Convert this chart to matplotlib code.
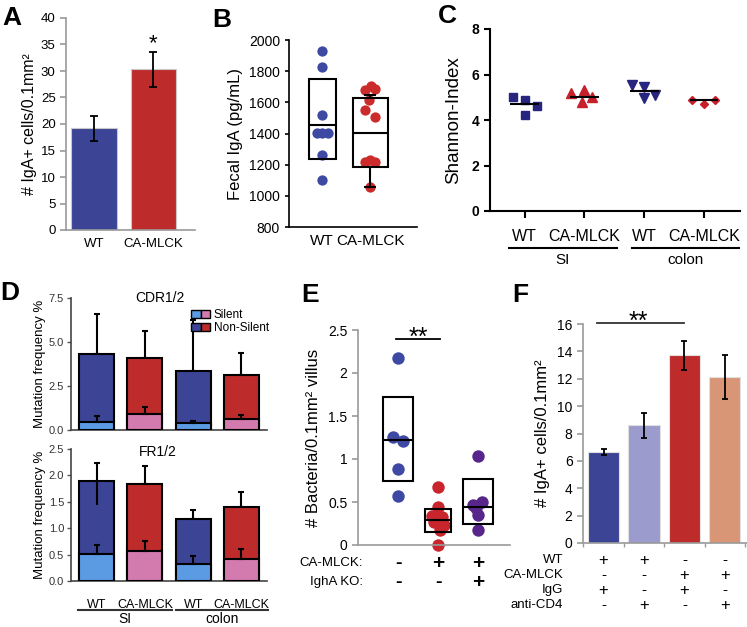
import numpy as np
import matplotlib.pyplot as plt
from matplotlib.patches import Patch
from matplotlib.legend_handler import HandlerTuple

plt.rcParams['font.family'] = ['Liberation Sans', 'DejaVu Sans']

# ---- panel A ----
a_groups = ['WT', 'CA-MLCK']
a_vals = [19.2, 30.3]
a_err = [2.4, 3.3]

# ---- panel B ----
b_groups = ['WT', 'CA-MLCK']
b_wt = [1930, 1828, 1516, 1402, 1402, 1402, 1265, 1101]
b_wt_jit = [0, 0, 0, -0.1, 0, 0.12, 0, 0]
b_ca = [1682, 1703, 1688, 1617, 1548, 1505, 1215, 1230, 1215, 1054]
b_ca_jit = [-0.1, 0.015, 0.1, -0.015, -0.1, 0.1, -0.1, 0, 0.1, 0]
b_q1 = [1235, 1187]
b_q3 = [1750, 1630]
b_med = [1455, 1402]
b_whislo = [None, 1058]
b_whishi = [None, 1645]

# ---- panel C ----
c_labels = ['WT', 'CA-MLCK', 'WT', 'CA-MLCK']
c_data = [[5.0, 4.9, 4.61, 4.2],
          [5.17, 5.31, 4.8, 5.0],
          [5.56, 5.45, 4.95, 5.12],
          [4.9, 4.69, 4.9]]
c_jit = [[-0.2, 0, 0.2, 0],
         [-0.23, 0, -0.05, 0.13],
         [-0.2, 0, 0, 0.18],
         [-0.2, 0, 0.18]]
c_means = [4.69, 5.0, 5.27, 4.88]

# ---- panel D ----
d_labels = ['WT', 'CA-MLCK', 'WT', 'CA-MLCK']
cdr_total = [4.31, 4.08, 3.38, 3.13]
cdr_total_err = [2.27, 1.56, 2.88, 1.23]
cdr_silent = [0.47, 0.89, 0.42, 0.63]
cdr_silent_err = [0.35, 0.44, 0.09, 0.22]
fr_total = [1.885, 1.83, 1.17, 1.40]
fr_total_err = [0.345, 0.35, 0.175, 0.29]
fr_total_err_lo = [0.445, 0, 0, 0]
fr_silent = [0.52, 0.565, 0.33, 0.425]
fr_silent_err = [0.17, 0.19, 0.14, 0.175]

# ---- panel E ----
e_blue = [2.18, 1.26, 1.21, 0.88, 0.57]
e_blue_jit = [0, -0.13, 0.13, 0, 0]
e_red = [0.67, 0.44, 0.34, 0.32, 0.27, 0.23, 0.18, 0.0]
e_red_jit = [0, 0, -0.15, 0.1, -0.1, 0.15, 0.05, 0]
e_purple = [1.03, 0.50, 0.47, 0.43, 0.35, 0.18]
e_purple_jit = [0, 0.1, -0.12, -0.05, 0, 0]
e_q1 = [0.74, 0.155, 0.245]
e_q3 = [1.72, 0.42, 0.77]
e_med = [1.22, 0.29, 0.445]
e_rows = ['CA-MLCK:', 'IghA KO:']
e_signs = [['-', '+', '+'], ['-', '-', '+']]

# ---- panel F ----
f_vals = [6.68, 8.59, 13.7, 12.15]
f_err = [0.22, 0.94, 1.05, 1.6]
f_rows = ['WT', 'CA-MLCK', 'IgG', 'anti-CD4']
f_signs = [['+', '+', '-', '-'],
           ['-', '-', '+', '+'],
           ['+', '-', '+', '-'],
           ['-', '+', '-', '+']]

BLUE = '#3c4496'
RED = '#bd2c2a'
LBLUE = '#5b9be3'
PINK = '#d37aae'
GRAY = '#9a9a9a'

W, H = 747, 627
fig = plt.figure(figsize=(W / 100, H / 100), dpi=100)


def px_axes(x0, y0, x1, y1):
    return fig.add_axes([x0 / W, 1 - y1 / H, (x1 - x0) / W, (y1 - y0) / H])


def gray_axes(ax):
    for s in ['top', 'right']:
        ax.spines[s].set_visible(False)
    for s in ['left', 'bottom']:
        ax.spines[s].set_color(GRAY)
        ax.spines[s].set_linewidth(1.2)
    ax.tick_params(axis='y', color=GRAY, length=4, width=1.2)


# panel letters
for letter, (x, y) in zip('ABCDEF', [(2, 25), (212, 27), (438, 23),
                                      (0, 300), (301, 302), (512, 302)]):
    fig.text(x / W, 1 - y / H, letter, fontsize=19, fontweight='bold',
             va='baseline')

# ---------- A ----------
ax = px_axes(66, 18, 195, 230)
xa = np.arange(len(a_groups))
ax.bar(xa, a_vals, width=0.77, color=[BLUE, RED], edgecolor='#c8c8c8', lw=0.8)
ax.errorbar(xa, a_vals, yerr=a_err, fmt='none', ecolor='k', elinewidth=1.3,
            capsize=3, capthick=1.3)
ax.text(1, 34.2, '*', ha='center', va='baseline', fontsize=16)
ax.set_xlim(-0.47, 1.70)
ax.set_ylim(0, 40)
ax.set_yticks(range(0, 41, 5))
ax.set_xticks(xa)
ax.set_xticklabels(a_groups, fontsize=9.5)
ax.tick_params(axis='x', length=0, pad=6)
ax.tick_params(axis='y', labelsize=9.5)
gray_axes(ax)
ax.set_ylabel('# IgA+ cells/0.1mm²', fontsize=11.5, labelpad=3)

# ---------- B ----------
ax = px_axes(289, 40, 417, 227)
ax.scatter(np.zeros(len(b_wt)) + b_wt_jit, b_wt, s=55, color='#3d49a3',
           zorder=2, lw=0)
ax.scatter(np.ones(len(b_ca)) + b_ca_jit, b_ca, s=55, color='#cc2b2b',
           zorder=2, lw=0)
bw = [0.56, 0.73]
for i in range(2):
    ax.bar(i, b_q3[i] - b_q1[i], bottom=b_q1[i], width=bw[i], fill=False,
           edgecolor='k', lw=1.5, zorder=3)
    ax.hlines(b_med[i], i - bw[i] / 2, i + bw[i] / 2, color='k', lw=1.5,
              zorder=3)
    if b_whislo[i] is not None:
        ax.vlines(i, b_whislo[i], b_q1[i], color='k', lw=1.5, zorder=3)
        ax.vlines(i, b_q3[i], b_whishi[i], color='k', lw=1.5, zorder=3)
        ax.hlines([b_whislo[i], b_whishi[i]], i - 0.12, i + 0.12, color='k',
                  lw=1.5, zorder=3)
ax.set_xlim(-0.69, 1.98)
ax.set_ylim(800, 2000)
ax.set_yticks(range(800, 2001, 200))
ax.set_xticks([0, 1])
ax.set_xticklabels(b_groups, fontsize=11)
ax.tick_params(axis='x', length=0, pad=5)
ax.tick_params(axis='y', labelsize=10, length=3, width=1.2)
for s in ['top', 'right']:
    ax.spines[s].set_visible(False)
for s in ['left', 'bottom']:
    ax.spines[s].set_linewidth(1.2)
ax.set_ylabel('Fecal IgA (pg/mL)', fontsize=12, labelpad=4)

# ---------- C ----------
ax = px_axes(490, 29, 740, 211)
markers = ['s', '^', 'v', 'D']
mcolors = ['#27257f', '#c8202a', '#27257f', '#c8202a']
msizes = [5.5, 6.5, 6.5, 4.5]
for i, vals in enumerate(c_data):
    ax.plot(np.full(len(vals), i) + np.array(c_jit[i]), vals, ls='none',
            marker=markers[i], color=mcolors[i], ms=msizes[i], zorder=2)
    ax.hlines(c_means[i], i - 0.24, i + 0.24, color='k', lw=1.5, zorder=3)
ax.set_xlim(-0.58, 3.6)
ax.set_ylim(0, 8)
ax.set_yticks([0, 2, 4, 6, 8])
ax.set_xticks(range(4))
ax.set_xticklabels(c_labels, fontsize=11.5)
for t in ax.get_yticklabels():
    t.set_fontweight('bold')
ax.tick_params(axis='y', labelsize=10, length=4, width=1.5)
ax.tick_params(axis='x', length=5, width=1.5, pad=8)
for s in ['top', 'right']:
    ax.spines[s].set_visible(False)
for s in ['left', 'bottom']:
    ax.spines[s].set_linewidth(1.5)
ax.set_ylabel('Shannon-Index', fontsize=13.5, labelpad=7)
tr = ax.get_xaxis_transform()
for (xs, xe), lab in zip([(-0.27, 1.55), (1.8, 3.58)], ['SI', 'colon']):
    ax.plot([xs, xe], [-0.203, -0.203], color='k', lw=1.5, transform=tr,
            clip_on=False)
    ax.text((xs + xe) / 2, -0.27, lab, transform=tr, ha='center', va='center',
            fontsize=11)

# ---------- D ----------
xd = np.arange(4)
dark = [BLUE, RED, BLUE, RED]
light = [LBLUE, PINK, LBLUE, PINK]
for (y0, y1, tot, tot_err, tot_lo, sil, sil_err, top, step, title,
     bottom) in [
        (298, 430, cdr_total, cdr_total_err, [0] * 4, cdr_silent,
         cdr_silent_err, 7.5, 2.5, 'CDR1/2', False),
        (449, 581, fr_total, fr_total_err, fr_total_err_lo, fr_silent,
         fr_silent_err, 2.5, 0.5, 'FR1/2', True)]:
    ax = px_axes(71, y0, 267, y1)
    ax.errorbar(xd, tot, yerr=[tot_lo, tot_err], fmt='none', ecolor='k',
                elinewidth=1.5, capsize=2.5, capthick=1.5, zorder=1)
    ax.bar(xd, tot, width=0.72, color=dark, edgecolor='k', lw=1.5, zorder=2)
    ax.bar(xd, sil, width=0.72, color=light, edgecolor='k', lw=1.5, zorder=3)
    if bottom:
        ax.errorbar(xd[0], tot[0], yerr=[[tot_lo[0]], [0]], fmt='none',
                    ecolor='k', elinewidth=1.5, zorder=4)
    ax.errorbar(xd, sil, yerr=[[0] * 4, sil_err], fmt='none', ecolor='k',
                elinewidth=1.5, capsize=2.5, capthick=1.5, zorder=4)
    ax.set_xlim(-0.53, 3.53)
    ax.set_ylim(0, top)
    ax.set_yticks(np.arange(0, top + step / 2, step))
    ax.yaxis.set_major_formatter(plt.FormatStrFormatter('%.1f'))
    ax.tick_params(axis='y', labelsize=8, length=3, width=1, color='#555555',
                   labelcolor='#333333', pad=2)
    for s in ['top', 'right']:
        ax.spines[s].set_visible(False)
    for s in ['left', 'bottom']:
        ax.spines[s].set_linewidth(1.2)
        ax.spines[s].set_color('#444444')
    ax.set_ylabel('Mutation frequency %', fontsize=9.5, labelpad=2)
    if bottom:
        ax.text(1.27, top * 0.975, title, ha='center', va='center',
                fontsize=10, clip_on=False)
        ax.set_xticks(xd)
        ax.set_xticklabels(d_labels, fontsize=9)
        ax.tick_params(axis='x', length=0, pad=13)
        tr = ax.get_xaxis_transform()
        for (xs, xe), lab in zip([(-0.38, 1.56), (1.65, 3.55)],
                                 ['SI', 'colon']):
            ax.plot([xs, xe], [-0.22, -0.22], color='#333333', lw=1.5,
                    transform=tr, clip_on=False)
            ax.text((xs + xe) / 2, -0.285, lab, transform=tr, ha='center',
                    va='center', fontsize=10)
    else:
        ax.text(1.31, top, title, ha='center', va='center', fontsize=10,
                clip_on=False)
        ax.set_xticks([])
        handles = [(Patch(fc=LBLUE, ec='k'), Patch(fc=PINK, ec='k')),
                   (Patch(fc=BLUE, ec='k'), Patch(fc=RED, ec='k'))]
        ax.legend(handles, ['Silent', 'Non-Silent'],
                  handler_map={tuple: HandlerTuple(ndivide=None, pad=0)},
                  loc='upper right', bbox_to_anchor=(1.04, 0.96),
                  frameon=False, fontsize=8.5, handlelength=1.6,
                  handleheight=0.7, handletextpad=0.3, labelspacing=0.05,
                  borderpad=0)

# ---------- E ----------
ax = px_axes(358, 330, 510, 545)
for i, (vals, jit, col) in enumerate([(e_blue, e_blue_jit, '#3d49a3'),
                                      (e_red, e_red_jit, '#c8262c'),
                                      (e_purple, e_purple_jit, '#58268a')]):
    ax.scatter(np.full(len(vals), i) + np.array(jit), vals, s=80, color=col,
               lw=0, zorder=2, clip_on=False)
ew = [0.73, 0.63, 0.73]
for i in range(3):
    ax.bar(i, e_q3[i] - e_q1[i], bottom=e_q1[i], width=ew[i], fill=False,
           edgecolor='k', lw=1.5, zorder=3)
    ax.hlines(e_med[i], i - ew[i] / 2, i + ew[i] / 2, color='k', lw=1.5,
              zorder=3)
ax.plot([-0.05, 1.05], [2.39, 2.39], color='k', lw=1.3)
ax.text(0.5, 2.33, '**', ha='center', va='baseline', fontsize=18)
ax.set_xlim(-1.0, 2.8)
ax.set_ylim(0, 2.5)
ax.set_yticks([0, 0.5, 1, 1.5, 2, 2.5])
ax.set_yticklabels(['0', '0.5', '1', '1.5', '2', '2.5'])
ax.set_xticks([])
ax.tick_params(axis='y', labelsize=10)
gray_axes(ax)
ax.set_ylabel('# Bacteria/0.1mm² villus', fontsize=12, labelpad=5)
tr = ax.get_xaxis_transform()
for r, (lab, signs) in enumerate(zip(e_rows, e_signs)):
    yy = -0.084 - 0.09 * r
    ax.text(-0.87, yy, lab, transform=tr, ha='right', va='center',
            fontsize=9.5)
    for i, sg in enumerate(signs):
        ax.text(i, yy, sg, transform=tr, ha='center', va='center',
                fontsize=15 if sg == '+' else 14, fontweight='bold')

# ---------- F ----------
ax = px_axes(583, 324, 747, 543)
xf = np.arange(4)
ax.bar(xf, f_vals, width=0.77, color=[BLUE, '#9b9bcd', RED, '#d99676'],
       edgecolor='#e0e0e0', lw=0.8)
ax.errorbar(xf, f_vals, yerr=f_err, fmt='none', ecolor='k', elinewidth=1.3,
            capsize=2.5, capthick=1.3)
ax.plot([-0.16, 1.99], [16.05, 16.05], color='#333333', lw=1.3,
        clip_on=False)
ax.text(0.85, 15.65, '**', ha='center', va='baseline', fontsize=18)
ax.set_xlim(-0.51, 3.55)
ax.set_ylim(0, 16)
ax.set_yticks(range(0, 17, 2))
ax.set_xticks(np.arange(-0.5, 4, 1))
ax.set_xticklabels([])
ax.tick_params(axis='x', color=GRAY, length=3, width=1)
ax.tick_params(axis='y', labelsize=10)
gray_axes(ax)
ax.set_ylabel('# IgA+ cells/0.1mm²', fontsize=12, labelpad=5)
tr = ax.get_xaxis_transform()
for r, (lab, signs) in enumerate(zip(f_rows, f_signs)):
    yy = -0.078 - 0.069 * r
    ax.text(-1.0, yy, lab, transform=tr, ha='right', va='center',
            fontsize=9.5)
    for i, sg in enumerate(signs):
        ax.text(i, yy, sg, transform=tr, ha='center', va='center',
                fontsize=12 if sg == '+' else 11)

fig.savefig('out.png', dpi=100)
